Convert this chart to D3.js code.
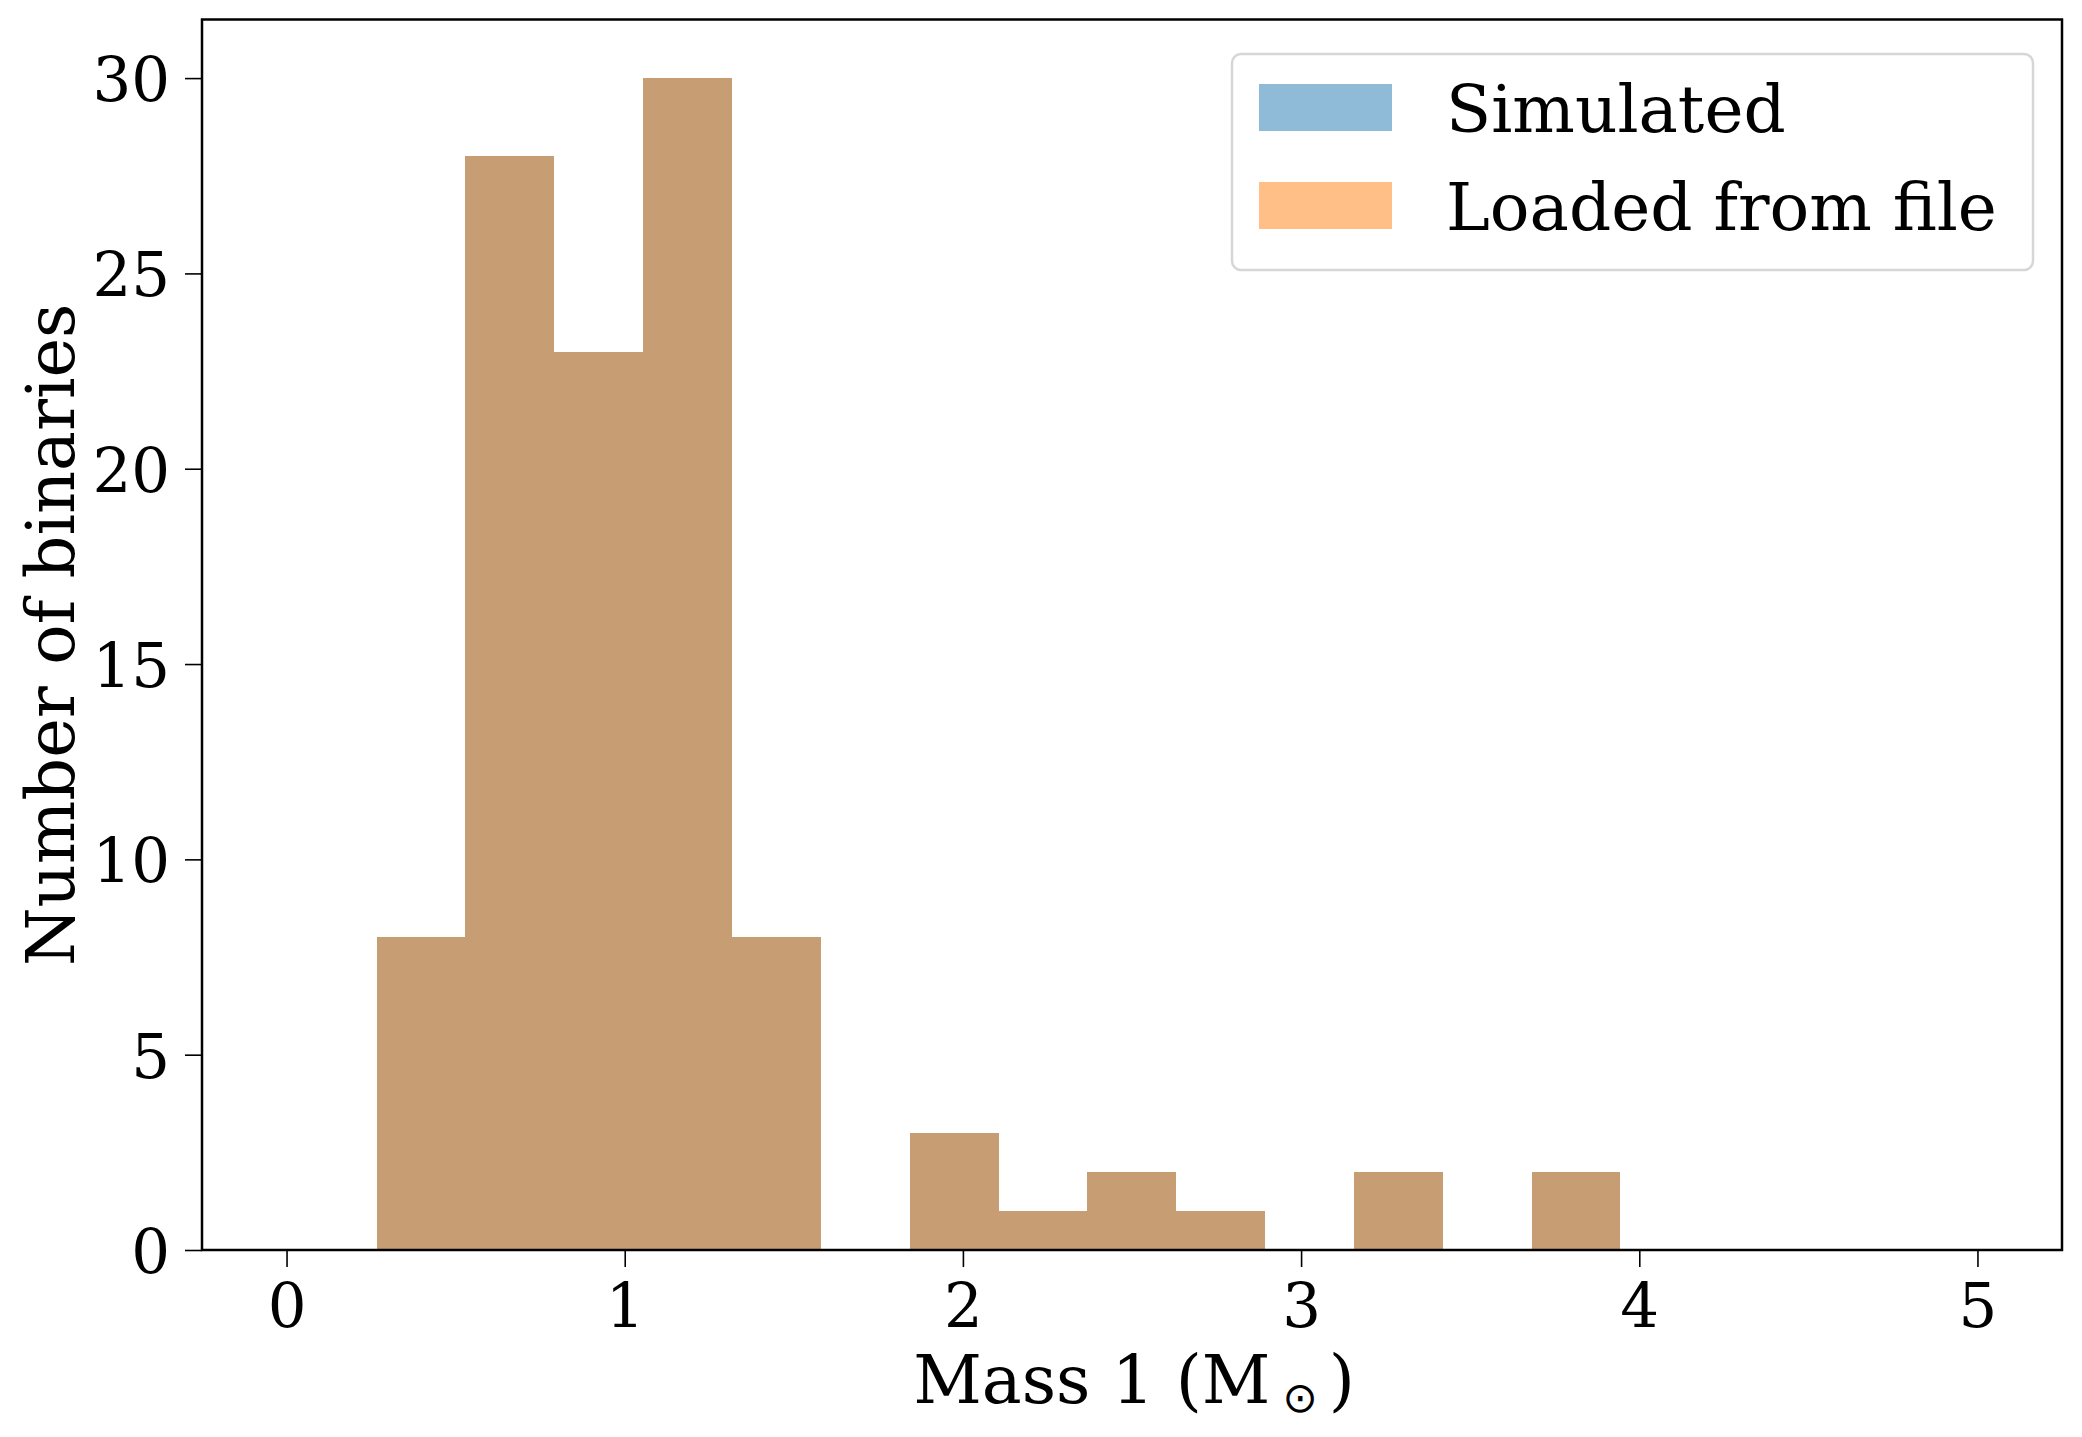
<!DOCTYPE html>
<html><head><meta charset="utf-8">
<script src="https://cdn.jsdelivr.net/npm/d3@7"></script>
<style>body{margin:0;background:#fff;} text{font-family:"DejaVu Serif","DejaVu Sans",serif;fill:#000;}</style>
</head><body><svg id="c" width="2082" height="1437"></svg>
<script>
const binEdges = [0.267,0.529,0.792,1.055,1.318,1.580,1.843,2.106,2.368,2.631,2.894,3.156,3.419,3.682,3.944];
const simulatedCounts = [8,28,23,30,8,0,3,1,2,1,0,2,0,2];
const loadedCounts = [8,28,23,30,8,0,3,1,2,1,0,2,0,2];
const xTicks = [0,1,2,3,4,5];
const yTicks = [0,5,10,15,20,25,30];
const seriesNames = ["Simulated","Loaded from file"];
const seriesColors = ["#1f77b4","#ff7f0e"];
const xDomain = [-0.25, 5.25];
const yDomain = [0, 31.5];

const L=202, R=2062, T=19.5, B=1250;
const x = d3.scaleLinear().domain(xDomain).range([L,R]);
const y = d3.scaleLinear().domain(yDomain).range([B,T]);
const svg = d3.select("#c");
svg.append("rect").attr("width",2082).attr("height",1437).attr("fill","#fff");

[simulatedCounts, loadedCounts].forEach((counts,si)=>{
  svg.append("g").selectAll("rect").data(counts).join("rect")
   .attr("x",(d,i)=>x(binEdges[i]))
   .attr("width",(d,i)=>x(binEdges[i+1])-x(binEdges[i]))
   .attr("y",d=>y(d)).attr("height",d=>y(0)-y(d))
   .attr("fill",seriesColors[si]).attr("fill-opacity",0.5)
   .attr("shape-rendering","crispEdges");
});

const xa = svg.append("g").attr("transform",`translate(0,${B})`)
  .call(d3.axisBottom(x).tickValues(xTicks).tickSize(17).tickPadding(17).tickFormat(d3.format("d")));
const ya = svg.append("g").attr("transform",`translate(${L},0)`)
  .call(d3.axisLeft(y).tickValues(yTicks).tickSize(17).tickPadding(15).tickFormat(d3.format("d")));
[xa,ya].forEach(a=>{
  a.select(".domain").remove();
  a.selectAll(".tick line").attr("stroke","#000").attr("stroke-width",1.6);
  a.selectAll(".tick text").attr("font-size",61).attr("font-family","DejaVu Serif");
});
ya.selectAll(".tick text").attr("dy","0.37em");

svg.append("rect").attr("x",L).attr("y",T).attr("width",R-L).attr("height",B-T)
  .attr("fill","none").attr("stroke","#000").attr("stroke-width",2.5);

// axis labels
const xl = svg.append("text").attr("x",(L+R)/2 + 2).attr("y",1403).attr("text-anchor","middle")
  .attr("font-size",67);
xl.append("tspan").text("Mass 1 (M");
xl.append("tspan").attr("font-size",42).attr("font-family","DejaVu Sans").attr("dx",12).attr("dy",9).text("\u2299");
xl.append("tspan").attr("dx",11).attr("dy",-9).text(")");

svg.append("text").attr("transform",`translate(74,${(T+B)/2}) rotate(-90)`)
  .attr("text-anchor","middle").attr("font-size",67).text("Number of binaries");

// legend
const lg = svg.append("g");
lg.append("rect").attr("x",1232).attr("y",54).attr("width",801).attr("height",216)
  .attr("rx",9).attr("fill","#fff").attr("fill-opacity",0.8)
  .attr("stroke","#d6d6d6").attr("stroke-width",2.5);
seriesNames.forEach((n,i)=>{
  lg.append("rect").attr("x",1259).attr("y",84+i*98).attr("width",133).attr("height",47)
    .attr("fill",seriesColors[i]).attr("fill-opacity",0.5);
  lg.append("text").attr("x",1446).attr("y",132+i*98).attr("font-size",66).text(n);
});
</script></body></html>
